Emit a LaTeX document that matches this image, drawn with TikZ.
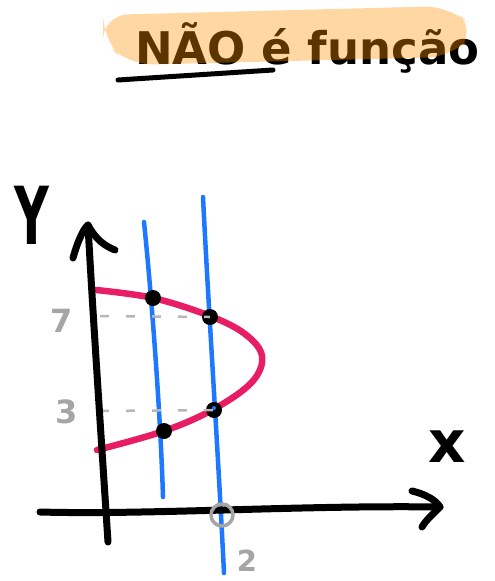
\documentclass[tikz,border=0pt]{standalone}
\usepackage{fontspec}
\setmainfont{DejaVu Sans}
\definecolor{hl}{RGB}{255,145,0}
\definecolor{pinkc}{RGB}{232,30,100}
\definecolor{bluec}{RGB}{30,120,255}
\definecolor{greyc}{RGB}{165,165,165}
\tikzset{
  axisline/.style={line width=7pt, line cap=round, line join=round, black},
  vline/.style={line width=4.5pt, line cap=round, bluec},
  curveline/.style={line width=6.5pt, line cap=round, pinkc},
  guide/.style={line width=2.5pt, greyc!80, dash pattern=on 9pt off 17pt},
  dot/.style={circle, fill=black, inner sep=0pt, minimum size=16pt},
  greylabel/.style={text=greyc, inner sep=0pt, font=\fontsize{32}{32}\selectfont\bfseries},
}
\begin{document}
\begin{tikzpicture}[x=1pt,y=-1pt]
\useasboundingbox (0,0) rectangle (495,581);
% title
\node[anchor=base west, inner sep=0pt, font=\fontsize{45}{45}\selectfont\bfseries] (title) at (135,64) {NÃO é função};
\draw[line width=5pt, line cap=round] (118,80) -- (273,70);
\fill[hl, opacity=0.36, rounded corners=25pt] (103,15) -- (450,6) -- (477,31) -- (452,57) -- (128,65) -- (103,40) -- cycle;
% labels
\node[font=\fontsize{80}{80}\selectfont\bfseries, xscale=0.6] (ylab) at (32,215) {Y};
\node[font=\fontsize{58}{58}\selectfont\bfseries] (xlab) at (447,447) {x};
% guide lines
\coordinate (g7) at (100,316);
\coordinate (g3) at (100,411);
% blue verticals
\coordinate (b1t) at (144,222); \coordinate (b1b) at (163,497);
\coordinate (b2t) at (203,197); \coordinate (b2b) at (224,573);
\draw[vline] (b1t) .. controls (150,280) and (160,400) .. (b1b);
\draw[vline] (b2t) .. controls (208,300) and (218,450) .. (b2b);
% pink curve
\draw[curveline] plot[smooth, tension=0.6] coordinates {(96,290) (153,298) (210,316) (245,334) (262,356) (252,382) (214,409) (164,431) (97,450)};
% dots
\node[dot] (p1) at (153,298) {};
\node[dot] (p2) at (210,317) {};
\node[dot] (p3) at (214,410) {};
\node[dot] (p4) at (164,431) {};
\fill[bluec] (214,408) circle (2pt);
\draw[guide] (g7) -- (p2.center);
\draw[guide] (g3) -- (p3.center);
% axes
\coordinate (yb) at (108,542); \coordinate (yt) at (88,225);
\draw[axisline] (yb) .. controls (100,420) and (92,300) .. (yt);
\draw[axisline] (73,258) .. controls (78,240) and (84,228) .. (yt) .. controls (96,240) and (105,246) .. (115,250);
\coordinate (xl) at (40,512); \coordinate (xr) at (440,507);
\draw[axisline] (xl) .. controls (150,515) and (300,505) .. (xr);
\draw[axisline] (412,491) .. controls (425,494) and (436,500) .. (xr) .. controls (432,515) and (426,520) .. (422,527);
% origin marker and numbers
\draw[greyc, line width=3.5pt] (222,515) circle (11pt);
\node[greylabel] (n7) at (62,321) {7};
\node[greylabel] (n3) at (67,412) {3};
\node[greylabel, font=\fontsize{29}{29}\selectfont\bfseries] (n2) at (247,561) {2};
\end{tikzpicture}
\end{document}
